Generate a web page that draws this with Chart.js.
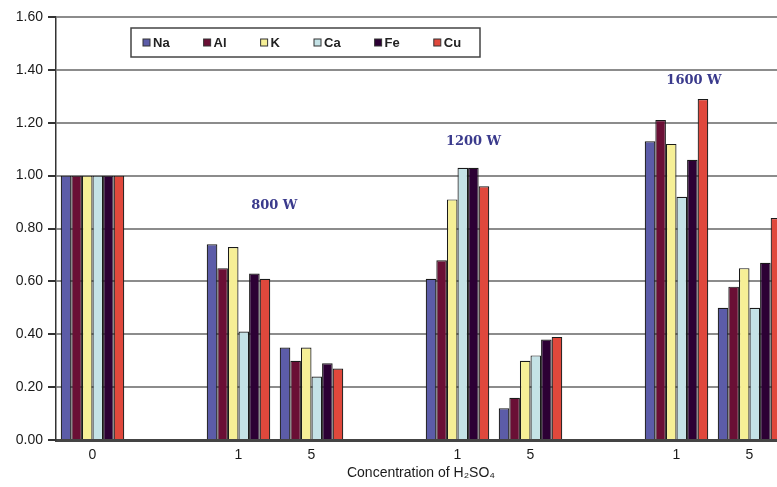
<!DOCTYPE html>
<html>
<head>
<meta charset="utf-8">
<script src="https://cdn.jsdelivr.net/npm/chart.js@4.4.1/dist/chart.umd.min.js"></script>
<style>
  html, body { margin: 0; padding: 0; background: #fff; overflow: hidden; }
  #wrap { width: 786px; height: 487px; }
</style>
</head>
<body>
<div id="wrap"><canvas id="chart" width="786" height="487"></canvas></div>
<script>
// categories along the x axis (empty ones are the gaps between power levels)
const categories = ["0", "", "1", "5", "", "1", "5", "", "1", "5"];
const yTicks = [0, 0.2, 0.4, 0.6, 0.8, 1.0, 1.2, 1.4, 1.6];

const seriesNames = ["Na", "Al", "K", "Ca", "Fe", "Cu"];
const na = [1.00, null, 0.74, 0.35, null, 0.61, 0.12, null, 1.13, 0.50];
const al = [1.00, null, 0.65, 0.30, null, 0.68, 0.16, null, 1.21, 0.58];
const k  = [1.00, null, 0.73, 0.35, null, 0.91, 0.30, null, 1.12, 0.65];
const ca = [1.00, null, 0.41, 0.24, null, 1.03, 0.32, null, 0.92, 0.50];
const fe = [1.00, null, 0.63, 0.29, null, 1.03, 0.38, null, 1.06, 0.67];
const cu = [1.00, null, 0.61, 0.27, null, 0.96, 0.39, null, 1.29, 0.84];
const colors = ["#5c5ca8", "#6a0f35", "#f6ef96", "#c4e2e6", "#2c0034", "#e0483c"];

// power labels over each group
const powerLabels = ["800 W", "1200 W", "1600 W"];
const powerAt = [[2.49, 0.885], [5.22, 1.127], [8.24, 1.358]];

const sansFont = "'Liberation Sans', Arial, sans-serif";

// legend drawn inside the plot area, like the original
const innerLegend = {
  id: "innerLegend",
  afterDatasetsDraw(chart) {
    const ctx = chart.ctx;
    ctx.save();
    ctx.fillStyle = "#fff";
    ctx.strokeStyle = "#444";
    ctx.lineWidth = 1.5;
    ctx.fillRect(131, 28, 349, 29);
    ctx.strokeRect(131, 28, 349, 29);
    ctx.font = "bold 13px " + sansFont;
    ctx.textBaseline = "middle";
    let x = 143;
    chart.data.datasets.forEach((ds) => {
      ctx.fillStyle = ds.backgroundColor;
      ctx.fillRect(x, 39, 7, 7);
      ctx.strokeStyle = "#333";
      ctx.lineWidth = 1;
      ctx.strokeRect(x, 39, 7, 7);
      ctx.fillStyle = "#222";
      ctx.fillText(ds.label, x + 10, 43);
      x += 10 + ctx.measureText(ds.label).width + 34;
    });
    ctx.restore();
  },
};

const powerText = {
  id: "powerText",
  afterDatasetsDraw(chart) {
    const ctx = chart.ctx;
    const xs = chart.scales.x;
    const ys = chart.scales.y;
    ctx.save();
    ctx.font = "bold 13px 'DejaVu Serif', serif";
    ctx.fillStyle = "#3a3a8c";
    ctx.textAlign = "center";
    ctx.textBaseline = "middle";
    powerLabels.forEach((txt, i) => {
      ctx.fillText(txt, xs.getPixelForValue(powerAt[i][0]), ys.getPixelForValue(powerAt[i][1]));
    });
    ctx.restore();
  },
};

const seriesData = [na, al, k, ca, fe, cu];

new Chart(document.getElementById("chart"), {
  type: "bar",
  data: {
    labels: categories,
    datasets: seriesNames.map((name, i) => ({
      label: name,
      data: seriesData[i],
      backgroundColor: colors[i],
      borderColor: "#1a1a1a",
      borderWidth: 1.2,
      categoryPercentage: 0.87,
      barPercentage: 1.0,
    })),
  },
  options: {
    responsive: false,
    animation: false,
    layout: { padding: { top: 17, right: 0, left: 0, bottom: 0 } },
    plugins: {
      legend: { display: false },
      tooltip: { enabled: false },
    },
    scales: {
      x: {
        offset: true,
        grid: {
          offset: true,
          drawOnChartArea: false,
          tickLength: 4,
          tickColor: "rgba(0,0,0,0)",
        },
        border: { color: "#444", width: 3 },
        ticks: {
          font: { family: sansFont, size: 14 },
          color: "#1a1a1a",
          padding: 3,
          maxRotation: 0,
          autoSkip: false,
        },
        title: {
          display: true,
          text: "Concentration of H\u2082SO\u2084",
          font: { family: sansFont, size: 14 },
          color: "#1a1a1a",
          padding: { top: 0, bottom: 5 },
        },
        afterFit(scale) {
          scale.height = 47;
        },
      },
      y: {
        min: 0,
        max: 1.6,
        afterBuildTicks(scale) {
          scale.ticks = yTicks.map((v) => ({ value: v }));
        },
        grid: {
          color: "#8c8c8c",
          lineWidth: 2,
          tickLength: 8,
          tickColor: "#333",
        },
        border: { color: "#333", width: 1.5 },
        ticks: {
          font: { family: sansFont, size: 14 },
          color: "#1a1a1a",
          padding: 5,
          callback: (v) => Number(v).toFixed(2),
        },
        afterFit(scale) {
          scale.width = 56;
        },
      },
    },
  },
  plugins: [innerLegend, powerText],
});
</script>
</body>
</html>
